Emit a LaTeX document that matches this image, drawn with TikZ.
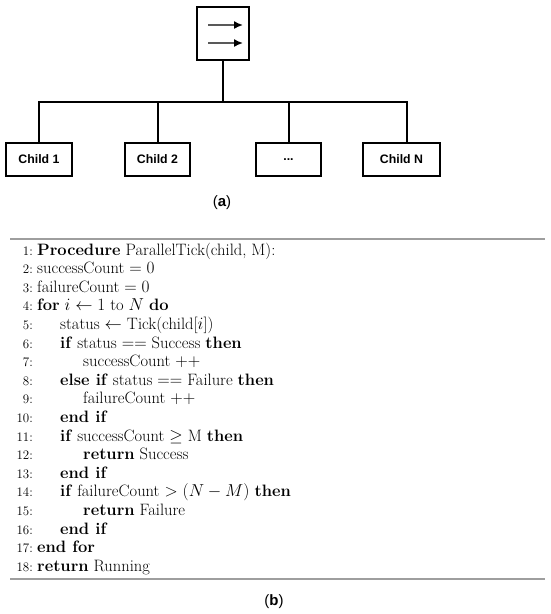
\documentclass[tikz,border=0pt]{standalone}
\usepackage{amsmath}
\usepackage{amssymb}
\usepackage{fontspec}
\newfontfamily\kidfont{Liberation Sans}
\usetikzlibrary{arrows.meta}
\begin{document}
\begin{tikzpicture}[x=1pt,y=-1pt,
  treebox/.style={draw,line width=2pt,minimum height=33pt,inner sep=0pt,font=\kidfont\bfseries\fontsize{12.3}{14}\selectfont},
  wire/.style={line width=2pt},
  shaft/.style={draw=black!65,line width=1.6pt,-{Latex[black,length=9pt,width=8pt]}},
  algline/.style={anchor=base west,inner sep=0pt,text height=11.5pt,text depth=4pt,font=\fontsize{16.5}{19}\selectfont},
  lnum/.style={anchor=base east,inner sep=0pt,text height=9pt,text depth=1pt,font=\fontsize{13}{15}\selectfont},
  rulel/.style={draw=black!38,line width=1.4pt},
  captext/.style={inner sep=0pt,font=\kidfont\fontsize{15}{17}\selectfont}]
\useasboundingbox (0,0) rectangle (550,614);
% ---------- (a) tree ----------
\node[draw,line width=2pt,minimum width=52pt,minimum height=53pt,inner sep=0pt] (par) at (223,33.5) {};
\coordinate (a1s) at (208,25);
\coordinate (a1e) at (243,25);
\coordinate (a2s) at (208,43);
\coordinate (a2e) at (243,43);
\draw[shaft] (a1s) -- (a1e);
\draw[shaft] (a2s) -- (a2e);
\node[treebox,minimum width=66pt] (c1) at (39,159.5) {Child 1};
\node[treebox,minimum width=65pt] (c2) at (157.5,159.5) {Child 2};
\node[treebox,minimum width=65pt] (c3) at (288.5,159.5) {...};
\node[treebox,minimum width=77pt] (cN) at (401.5,159.5) {Child N};
\coordinate (bus) at (223,102);
\coordinate (bL) at (39,102);
\coordinate (bR) at (407,102);
\draw[wire] (par.south) -- (bus);
\draw[wire] (c1.north) -- (bL) -- (bR) -- (bR |- cN.north);
\draw[wire] (c2.north) -- (c2.north |- bus);
\draw[wire] (c3.north) -- (c3.north |- bus);
\node[captext] (capa) at (222,203) {(\textbf{a})};
% ---------- (b) algorithm ----------
\coordinate (rt1) at (10,239);
\coordinate (rt2) at (545,239);
\coordinate (rb1) at (10,579);
\coordinate (rb2) at (545,579);
\draw[rulel] (rt1) -- (rt2);
\draw[rulel] (rb1) -- (rb2);
\node[lnum] (n1) at (33,255) {1:};
\node[lnum] (n2) at (33,273.6) {2:};
\node[lnum] (n3) at (33,292.2) {3:};
\node[lnum] (n4) at (33,310.8) {4:};
\node[lnum] (n5) at (33,329.4) {5:};
\node[lnum] (n6) at (33,348.0) {6:};
\node[lnum] (n7) at (33,366.6) {7:};
\node[lnum] (n8) at (33,385.2) {8:};
\node[lnum] (n9) at (33,403.8) {9:};
\node[lnum] (n10) at (33,422.4) {10:};
\node[lnum] (n11) at (33,441.0) {11:};
\node[lnum] (n12) at (33,459.6) {12:};
\node[lnum] (n13) at (33,478.2) {13:};
\node[lnum] (n14) at (33,496.8) {14:};
\node[lnum] (n15) at (33,515.4) {15:};
\node[lnum] (n16) at (33,534.0) {16:};
\node[lnum] (n17) at (33,552.6) {17:};
\node[lnum] (n18) at (33,571.2) {18:};
\node[algline] (l1) at (37,255) {\textbf{Procedure} ParallelTick(child, M):};
\node[algline] (l2) at (37,273.6) {successCount $=0$};
\node[algline] (l3) at (37,292.2) {failureCount $=0$};
\node[algline] (l4) at (37,310.8) {\textbf{for} $i \leftarrow 1$ to $N$ \textbf{do}};
\node[algline] (l5) at (60,329.4) {status $\leftarrow$ Tick(child[$i$])};
\node[algline] (l6) at (60,348.0) {\textbf{if} status $==$ Success \textbf{then}};
\node[algline] (l7) at (83,366.6) {successCount $++$};
\node[algline] (l8) at (60,385.2) {\textbf{else if} status $==$ Failure \textbf{then}};
\node[algline] (l9) at (83,403.8) {failureCount $++$};
\node[algline] (l10) at (60,422.4) {\textbf{end if}};
\node[algline] (l11) at (60,441.0) {\textbf{if} successCount $\geq$ M \textbf{then}};
\node[algline] (l12) at (83,459.6) {\textbf{return} Success};
\node[algline] (l13) at (60,478.2) {\textbf{end if}};
\node[algline] (l14) at (60,496.8) {\textbf{if} failureCount $>$ $(N-M)$ \textbf{then}};
\node[algline] (l15) at (83,515.4) {\textbf{return} Failure};
\node[algline] (l16) at (60,534.0) {\textbf{end if}};
\node[algline] (l17) at (37,552.6) {\textbf{end for}};
\node[algline] (l18) at (37,571.2) {\textbf{return} Running};
\node[captext] (capb) at (274,602) {(\textbf{b})};
\end{tikzpicture}
\end{document}
